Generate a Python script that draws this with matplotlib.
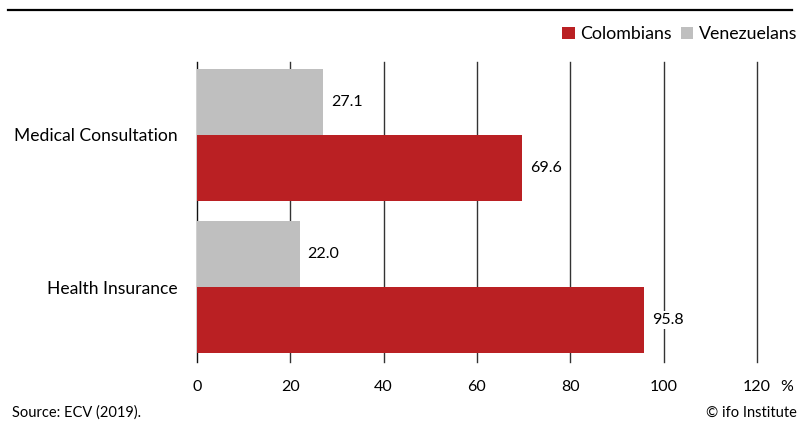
import matplotlib.pyplot as plt
from matplotlib.patches import Patch
from matplotlib.lines import Line2D

plt.rcParams['font.family'] = ['Lato', 'DejaVu Sans']

categories = ['Health Insurance', 'Medical Consultation']
colombians = [95.8, 69.6]
venezuelans = [22.0, 27.1]
xticks = [0, 20, 40, 60, 80, 100, 120]

red = '#BA2023'
grey = '#BFBFBF'

fig = plt.figure(figsize=(7.99, 4.21), dpi=100)
ax = fig.add_axes([197 / 799, 1 - 362 / 421, 560 / 799, 300 / 421])

h = 0.434
pos = list(range(len(categories)))
ax.barh([p - h / 2 for p in pos], colombians, height=h, color=red, zorder=3)
ax.barh([p + h / 2 for p in pos], venezuelans, height=h, color=grey, zorder=3)

# value labels next to the bars
for p, c, v in zip(pos, colombians, venezuelans):
    ax.text(c + 1.7, p - h / 2, f'{c:.1f}', va='center', ha='left', fontsize=11.5,
            zorder=4, bbox=dict(facecolor='white', edgecolor='none', pad=1.5))
    ax.text(v + 1.7, p + h / 2, f'{v:.1f}', va='center', ha='left', fontsize=11.5,
            zorder=4, bbox=dict(facecolor='white', edgecolor='none', pad=1.5))

ax.set_xlim(0, 120)
ax.set_ylim(-0.493, 1.48)
ax.set_xticks(xticks)
ax.set_xticklabels([str(t) for t in xticks], fontsize=11.5)
ax.set_yticks(pos)
ax.set_yticklabels(categories, fontsize=12.6)
ax.tick_params(axis='x', length=0, pad=13)
ax.tick_params(axis='y', length=0, pad=14)
for t in xticks:
    ax.axvline(t, color='#333333' if t else '#111111', lw=1, zorder=1, clip_on=False)
for s in ax.spines.values():
    s.set_visible(False)

fig.text(787 / 799, 1 - 387 / 421, '%', fontsize=11.5, ha='center', va='center')

handles = [Patch(facecolor=red, label='Colombians'),
           Patch(facecolor=grey, label='Venezuelans')]
fig.legend(handles=handles, loc='center right', bbox_to_anchor=(797 / 799, 1 - 34 / 421),
           ncol=2, frameon=False, fontsize=12.8, handlelength=0.7, handleheight=0.7,
           handletextpad=0.3, columnspacing=0.5, borderpad=0, borderaxespad=0)

fig.add_artist(Line2D([8 / 799, 792 / 799], [1 - 10 / 421] * 2, color='black', lw=1.6))

fig.text(12 / 799, 1 - 413 / 421, 'Source: ECV (2019).', fontsize=10.5, va='center', ha='left')
fig.text(797 / 799, 1 - 413 / 421, '© ifo Institute', fontsize=10.5, va='center', ha='right')

fig.savefig('out.png', dpi=100)
